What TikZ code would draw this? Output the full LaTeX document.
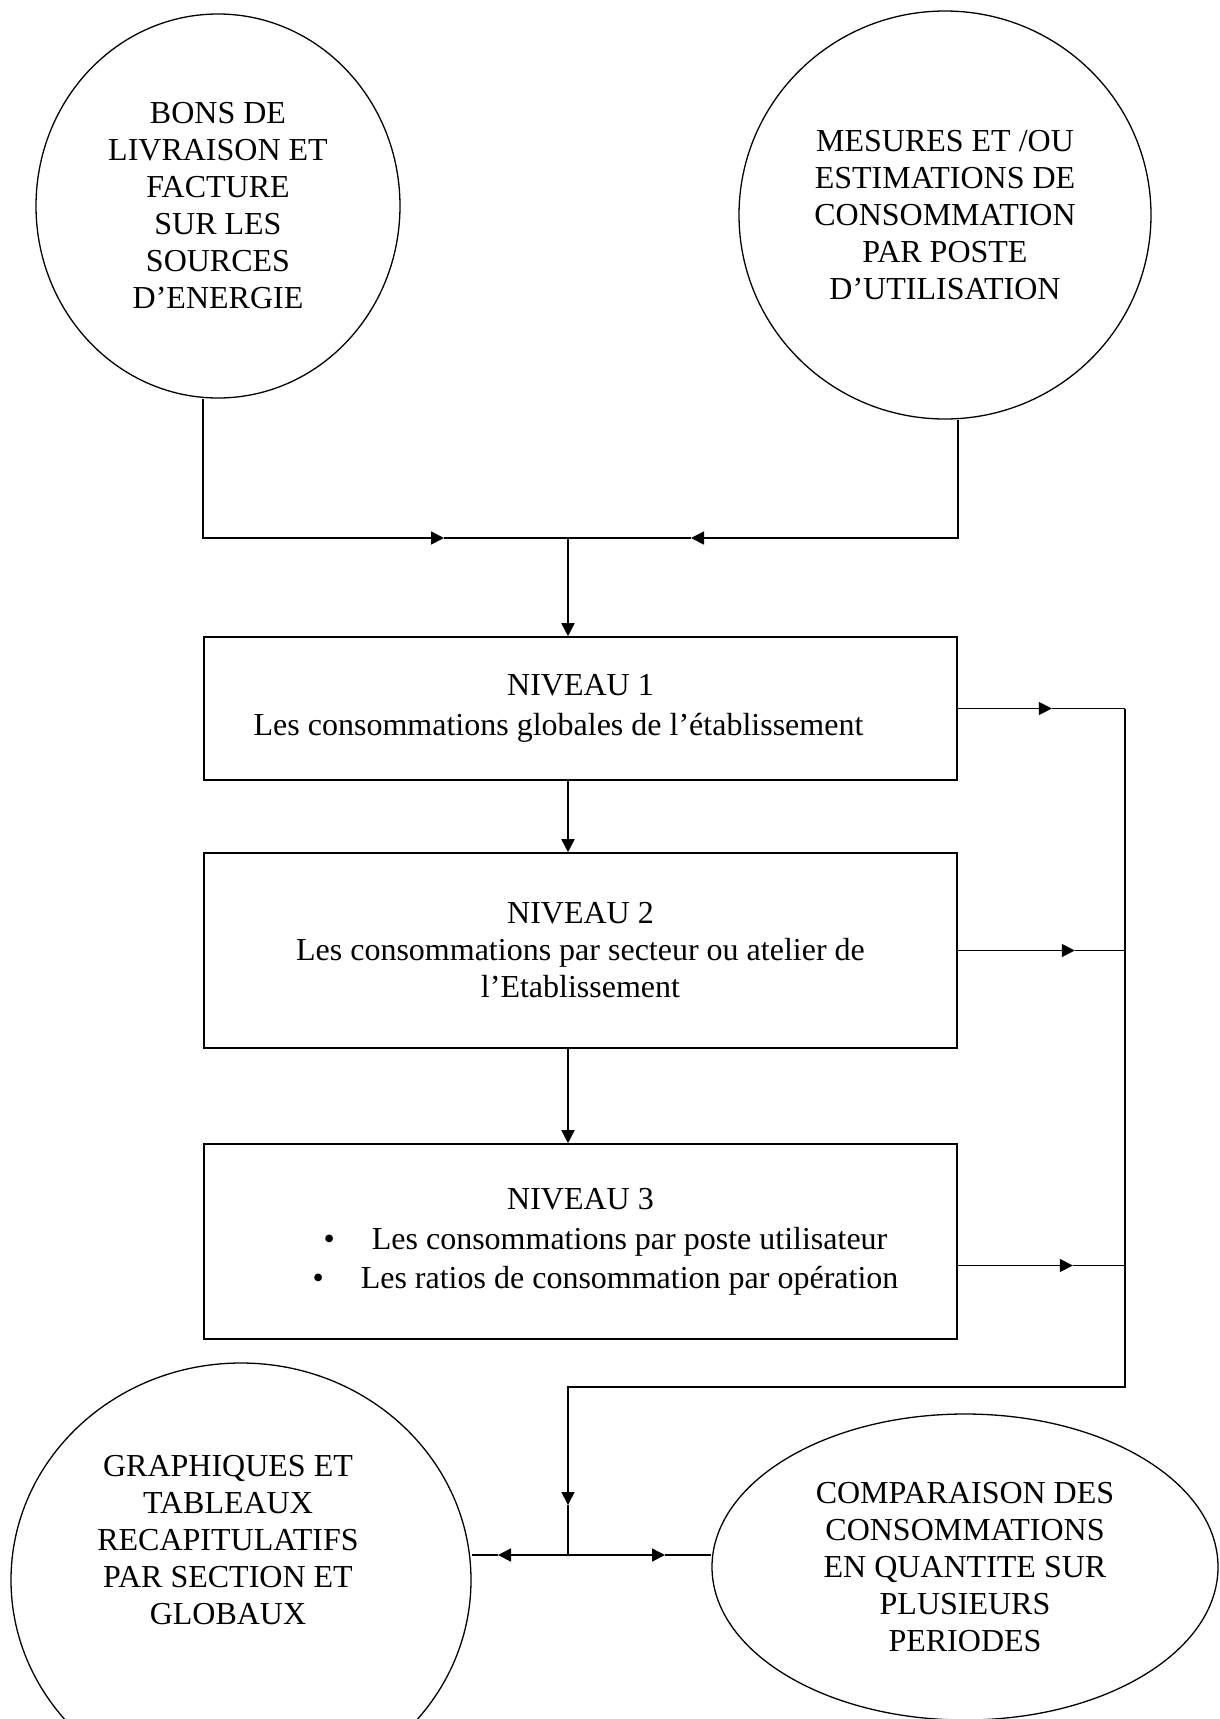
\documentclass[tikz,border=0pt]{standalone}
\usepackage{fontspec}
\setmainfont{Liberation Serif}
\usetikzlibrary{arrows.meta,shapes.geometric}
\begin{document}
\begin{tikzpicture}[x=1pt,y=-1pt,
  every node/.style={font=\fontsize{32}{37}\selectfont, align=center, inner sep=0pt},
  oval/.style={draw, ellipse, line width=1.3pt},
  stage/.style={draw, rectangle, line width=1.6pt, minimum width=753pt},
  link/.style={line width=1.6pt},
  tip/.style={link, -{Triangle[length=13pt,width=13pt]}}]
\useasboundingbox (0,0) rectangle (1220,1719);
\clip (0,0) rectangle (1220,1719);

% sources
\node[oval, minimum width=364pt, minimum height=384pt] (src) at (218,206)
  {BONS DE\\LIVRAISON ET\\FACTURE\\SUR LES\\SOURCES\\D’ENERGIE};
\node[oval, minimum width=412pt, minimum height=408pt] (mes) at (945,215)
  {MESURES ET /OU\\ESTIMATIONS DE\\CONSOMMATION\\PAR POSTE\\D’UTILISATION};

% the three levels
\node[stage, minimum height=143pt] (n1) at (580.5,708.5)
  {NIVEAU 1\\[3pt]\hspace*{-44pt}Les consommations globales de l’établissement};
\node[stage, minimum height=195pt] (n2) at (580.5,950.5)
  {NIVEAU 2\\Les consommations par secteur ou atelier de\\l’Etablissement};
\node[stage, minimum height=195pt] (n3) at (580.5,1241.5)
  {NIVEAU 3\\[3pt]\hspace*{50pt}•\hspace{37pt}Les consommations par poste utilisateur\\[2pt]\hspace*{50pt}•\hspace{37pt}Les ratios de consommation par opération};

% outputs
\node[oval, minimum width=460pt, minimum height=434pt] (gra) at (241,1580) {};
\node (grat) at (228,1540)
  {GRAPHIQUES ET\\TABLEAUX\\RECAPITULATIFS\\PAR SECTION ET\\GLOBAUX};
\node[oval, minimum width=506pt, minimum height=306pt] (cmp) at (965,1567)
  {COMPARAISON DES\\CONSOMMATIONS\\EN QUANTITE SUR\\PLUSIEURS\\PERIODES};

% routing points
\coordinate (spine) at (568,0);
\coordinate (rail) at (1125,0);
\coordinate (jt) at (568,538);
\coordinate (inL) at (444,538);
\coordinate (inR) at (691,538);
\coordinate (o1) at ([xshift=94pt]n1.east);
\coordinate (o2) at ([xshift=117pt]n2.east);
\coordinate (n3out) at ([yshift=-24pt]n3.east);
\coordinate (o3) at ([xshift=115pt]n3out);
\coordinate (turn) at (1125,1387);
\coordinate (drop) at (568,1387);
\coordinate (inB) at (568,1505);
\coordinate (jb) at (568,1555);
\coordinate (toG) at (498,1555);
\coordinate (toC) at (665,1555);

% inputs merging into level 1
\draw[tip] (src.south -| n1.west) |- (inL);
\draw[link] (inL) -- (jt);
\draw[tip] (mes.south -| n1.east) |- (inR);
\draw[link] (inR) -- (jt);
\draw[tip] (jt) -- (n1.north -| jt);

% level to level
\draw[tip] (n1.south -| spine) -- (n2.north -| spine);
\draw[tip] (n2.south -| spine) -- (n3.north -| spine);

% feeds to the collecting rail
\draw[tip] (n1.east) -- (o1);
\draw[link] (o1) -- (n1.east -| rail);
\draw[tip] (n2.east) -- (o2);
\draw[link] (o2) -- (n2.east -| rail);
\draw[tip] (n3out) -- (o3);
\draw[link] (o3) -- (n3out -| rail);

% rail down to the outputs
\draw[tip] (n1.east -| rail) -- (turn) -- (drop) -- (inB);
\draw[link] (inB) -- (jb);
\draw[tip] (jb) -- (toG);
\draw[link] (toG) -- (jb -| gra.east);
\draw[tip] (jb) -- (toC);
\draw[link] (toC) -- (jb -| cmp.west);
\end{tikzpicture}
\end{document}
